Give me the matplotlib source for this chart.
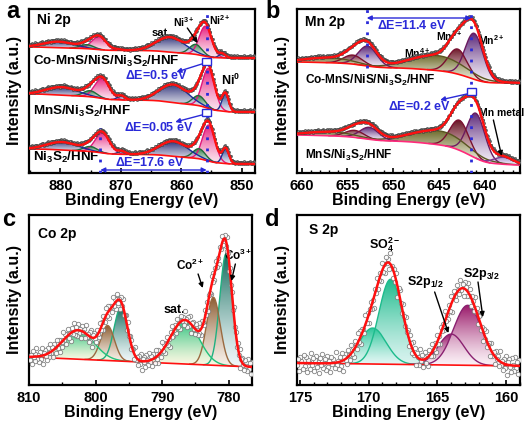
import numpy as np
import matplotlib
matplotlib.use('Agg')
import matplotlib.pyplot as plt
from matplotlib.patches import Polygon, Rectangle
from matplotlib.colors import LinearSegmentedColormap

plt.rcParams['font.family'] = ['Liberation Sans', 'DejaVu Sans']
plt.rcParams['font.weight'] = 'bold'
plt.rcParams['axes.labelweight'] = 'bold'
plt.rcParams['mathtext.fontset'] = 'custom'
plt.rcParams['mathtext.rm'] = 'Liberation Sans:bold'
plt.rcParams['mathtext.bf'] = 'Liberation Sans:bold'
plt.rcParams['mathtext.it'] = 'Liberation Sans:bold'
plt.rcParams['mathtext.sf'] = 'Liberation Sans:bold'
plt.rcParams['mathtext.default'] = 'rm'

# ---- Ni 2p (panel a) ----
ni_samples = ['Co-MnS/NiS/Ni$_3$S$_2$/HNF', 'MnS/Ni$_3$S$_2$/HNF', 'Ni$_3$S$_2$/HNF']
ni_base_right = [115, 61, 9]
ni_base_step = [11, 18, 15]
ni_shift = [0.0, -0.5, -0.55]
ni_peaks = ['Ni2+', 'Ni3+', 'Ni0', 'sat', 'Ni2+', 'Ni3+', 'Ni0', 'sat']
ni_centers = [856.0, 857.6, 853.2, 861.8, 873.6, 875.6, 870.4, 880.2]
ni_fwhm = [2.4, 2.4, 1.3, 5.5, 2.8, 2.6, 1.5, 6.0]
ni_heights = [[30, 10, 4, 15, 13, 4, 1, 6],
              [40, 10, 18, 18, 20, 6, 4, 8],
              [36, 10, 15, 15, 20, 5, 3, 8]]

# ---- Mn 2p (panel b) ----
mn_samples = ['Co-MnS/NiS/Ni$_3$S$_2$/HNF', 'MnS/Ni$_3$S$_2$/HNF']
mn_base_right = [90, 8]
mn_base_step = [21, 30]
mn_shift = [0.0, -0.2]
mn_peaks = ['Mn2+', 'Mn3+', 'Mn4+', 'Mn0', 'Mn2+', 'Mn3+', 'Mn4+']
mn_centers = [641.2, 643.0, 645.2, 638.2, 652.8, 654.4, 657.0]
mn_fwhm = [2.3, 2.4, 7.0, 2.5, 2.4, 2.4, 6.0]
mn_heights = [[46, 25, 15, 0, 20, 9, 5],
              [45, 30, 14, 7, 12, 7, 4]]

# ---- Co 2p (panel c) ----
co_peaks = ['Co3+', 'Co2+', 'cosat', 'Co3+', 'Co2+', 'cosat']
co_centers = [780.4, 782.3, 786.6, 796.2, 798.2, 802.6]
co_fwhm = [2.2, 2.4, 5.0, 2.4, 2.4, 5.5]
co_heights = [112, 68, 44, 54, 35, 29]
co_bg = [18, 28]   # at low / high binding energy end

# ---- S 2p (panel d) ----
s_peaks = ['SO4', 'SO4b', 'S', 'S']
s_centers = [168.4, 169.7, 164.0, 162.8]
s_fwhm = [2.0, 2.3, 2.2, 2.4]
s_heights = [85, 36, 31, 60]
s_bg = [19, 22]

# residuals of measured points about the fit (read by eye)
noise = [0.3, -0.8, 1.2, -0.4, 0.9, -1.3, 0.5, 0.1, -0.9, 1.4, -0.2, 0.7, -1.1, 0.4, 1.0,
         -0.6, 0.2, -1.4, 0.8, -0.3, 1.3, -0.7, 0.0, 0.6, -1.0, 1.1, -0.5, 0.3, -1.2, 0.9,
         -0.1, 0.5, -0.8, 1.5, -0.4, 0.2, -1.0, 0.7, -0.6, 1.2, -1.5, 0.4, 0.8, -0.2, -0.9,
         1.0, 0.1, -0.7, 1.3, -0.3, 0.6, -1.1, 0.9]

styles = {
    'Ni2+': ('#e8207e', '#fbe3ee', '#e0187a'),
    'Ni3+': ('#2a7a46', '#e2efe4', '#1f6a3a'),
    'Ni0': ('#27408f', '#e6e9f3', '#1a2f90'),
    'sat': ('#2b2f78', '#eeeef2', '#1a2a9a'),
    'Mn2+': ('#5a2678', '#f1ebf6', '#6a1a60'),
    'Mn3+': ('#6a1626', '#f3e4e6', '#7a1030'),
    'Mn4+': ('#6d6a2c', '#efeedd', '#5a5522'),
    'Mn0': ('#a58acb', '#f1ecf8', '#7a3b8f'),
    'Co3+': ('#0f6a5a', '#eef6f8', '#20b080'),
    'Co2+': ('#8a5a30', '#f6efe6', '#9a6a40'),
    'cosat': ('#22c07a', '#fbf8e2', '#22c07a'),
    'SO4': ('#1dbb8c', '#d8f3ef', '#1dbb8c'),
    'SO4b': ('#2cc79a', '#e2f6f4', '#1dbb8c'),
    'S': ('#9a1a6a', '#fbf0f6', '#8a2070'),
}

RED = '#ff1010'
BLUE = '#2a2ad8'


def gauss(x, c, w, h):
    return h * np.exp(-4 * np.log(2) * ((x - c) / w) ** 2)


def grad_fill(ax, x, lower, upper, key, z):
    dark, light, edge = styles[key]
    m = (upper - lower) > 0.15
    if m.sum() < 3:
        return
    xs, lo, up = x[m], lower[m], upper[m]
    verts = np.vstack([np.column_stack([xs, up]), np.column_stack([xs[::-1], lo[::-1]])])
    poly = Polygon(verts, closed=True, fc='none', ec='none')
    ax.add_patch(poly)
    cmap = LinearSegmentedColormap.from_list('g', [light, dark])
    img = np.linspace(0, 1, 128).reshape(-1, 1) ** 1.3
    im = ax.imshow(img, cmap=cmap, extent=[xs.min(), xs.max(), lo.min(), up.max()],
                   origin='lower', aspect='auto', zorder=z, interpolation='bilinear')
    im.set_clip_path(poly)
    ax.plot(xs, up, color=edge, lw=1.0, zorder=z + 0.5)


def style_axes(ax, xlim, major, minor):
    ax.set_xlim(*xlim)
    ax.set_xticks(np.arange(np.ceil(min(xlim) / major) * major, max(xlim) + 0.01, major))
    ax.set_xticks(np.arange(np.ceil(min(xlim) / minor) * minor, max(xlim) + 0.01, minor), minor=True)
    ax.set_yticks([])
    ax.tick_params(axis='x', which='major', direction='in', length=3.5, width=1.2,
                   labelsize=10.5, pad=4)
    ax.tick_params(axis='x', which='minor', direction='in', length=2, width=1.0)
    for lbl in ax.get_xticklabels():
        lbl.set_fontweight('bold')
    for s in ax.spines.values():
        s.set_linewidth(1.6)
    ax.set_xlabel('Binding Energy (eV)', fontsize=11.5, fontweight='bold', labelpad=0)
    ax.set_ylabel('Intensity (a.u.)', fontsize=11.5, fontweight='bold', labelpad=5)


W, H = 524, 424
fig = plt.figure(figsize=(W / 100, H / 100), dpi=100)


def add_ax(l, t, r, b):
    return fig.add_axes([l / W, 1 - b / H, (r - l) / W, (b - t) / H])


axa = add_ax(29, 9, 255, 173)
axb = add_ax(297, 9, 520, 173)
axc = add_ax(29, 215, 252, 385)
axd = add_ax(297, 215, 520, 385)


def stacked(ax, xlim, centers, fwhm, heights, peaks, base_right, base_step, shifts, bgcol, dotstep):
    x = np.arange(min(xlim), max(xlim) + 0.02, 0.02)
    for i in range(len(heights)):
        comps = [gauss(x, c + shifts[i], w, h) for c, w, h in zip(centers, fwhm, heights[i])]
        total = np.sum(comps, axis=0)
        cum = np.cumsum(total)
        bg = base_right[i] + base_step[i] * cum / cum[-1]
        for k, (cp, key) in enumerate(zip(comps, peaks)):
            if heights[i][k] > 0:
                grad_fill(ax, x, bg, bg + cp, key, 2 + 0.01 * k)
        ax.plot(x, bg, color=bgcol[i], lw=1.2, zorder=4)
        xd = np.arange(min(xlim), max(xlim), dotstep)
        env_d = np.interp(xd, x, bg + total)
        yd = env_d + 1.2 + 1.1 * np.resize(noise, len(xd))
        ax.plot(xd, yd, 'o', ms=1.6, mfc='#8a8a8a', mec='#2a2a2a', mew=0.35, zorder=4.5)
        ax.plot(x, bg + total, color=RED, lw=1.7, zorder=5)


def arrow(ax, xy, xytext, color='k', style='-|>'):
    ax.annotate('', xy=xy, xytext=xytext,
                arrowprops=dict(arrowstyle=style, color=color, lw=1.0, mutation_scale=7,
                                shrinkA=0, shrinkB=0), zorder=7)


# ---------------- panel a ----------------
stacked(axa, (885.2, 847.8), ni_centers, ni_fwhm, ni_heights, ni_peaks,
        ni_base_right, ni_base_step, ni_shift, [RED, RED, RED], 0.09)
axa.set_ylim(0, 164)
style_axes(axa, (885.2, 847.8), 10, 5)
axa.text(883.9, 153, 'Ni 2p', fontsize=10, va='center')
for lab, yy in zip(ni_samples, [112, 62, 16]):
    axa.text(884.6, yy, lab, fontsize=9.6, va='center')
axa.text(863.3, 140, 'sat.', fontsize=8, ha='center', va='center')
axa.text(859.6, 151, 'Ni$^{3+}$', fontsize=7.5, ha='center', va='center')
arrow(axa, (857.3, 130), (859.0, 145))
axa.text(853.6, 153, 'Ni$^{2+}$', fontsize=7.5, ha='center', va='center')
axa.text(851.9, 93, 'Ni$^0$', fontsize=9, ha='center', va='center')
axa.plot([873.4, 873.4], [0, 45], ls=(0, (1, 3)), color=BLUE, lw=2, zorder=6)
axa.plot([855.8, 855.8], [0, 164], ls=(0, (1, 3)), color=BLUE, lw=2, zorder=6)
for yy in [111, 60]:
    axa.add_patch(Rectangle((855.8 - 0.7, yy - 3.5), 1.4, 7, fc='white', ec=BLUE, lw=1.0, zorder=6.5))
arrow(axa, (860.8, 101), (856.6, 109), BLUE)
axa.text(864.2, 97, '$\\Delta$E=0.5 eV', fontsize=9, color=BLUE, ha='center', va='center')
arrow(axa, (861.0, 51), (856.6, 58), BLUE)
axa.text(863.8, 45, '$\\Delta$E=0.05 eV', fontsize=9, color=BLUE, ha='center', va='center')
arrow(axa, (855.8, 3), (873.4, 3), BLUE, '<|-|>')
axa.text(865.2, 10, '$\\Delta$E=17.6 eV', fontsize=9, color=BLUE, ha='center', va='center')

# ---------------- panel b ----------------
stacked(axb, (660.5, 636.2), mn_centers, mn_fwhm, mn_heights, mn_peaks,
        mn_base_right, mn_base_step, mn_shift, [RED, '#ff2a7a'], 0.06)
axb.set_ylim(0, 164)
style_axes(axb, (660.5, 636.2), 5, 1)
axb.text(659.6, 151, 'Mn 2p', fontsize=10, va='center')
for lab, yy in zip(mn_samples, [93, 18]):
    axb.text(659.6, yy, lab, fontsize=8.6, va='center')
axb.plot([652.9, 652.9], [105, 164], ls=(0, (1, 3)), color=BLUE, lw=2, zorder=6)
axb.plot([641.5, 641.5], [0, 164], ls=(0, (1, 3)), color=BLUE, lw=2, zorder=6)
arrow(axb, (641.5, 155), (652.9, 155), BLUE, '<|-|>')
axb.text(648.0, 147, '$\\Delta$E=11.4 eV', fontsize=9, color=BLUE, ha='center', va='center')
axb.text(643.9, 137, 'Mn$^{3+}$', fontsize=7.5, ha='center', va='center')
axb.text(639.3, 133, 'Mn$^{2+}$', fontsize=7.5, ha='center', va='center')
axb.text(647.4, 120, 'Mn$^{4+}$', fontsize=7.5, ha='center', va='center')
axb.add_patch(Rectangle((641.5 - 0.5, 81 - 3.5), 1.0, 7, fc='white', ec=BLUE, lw=1.0, zorder=6.5))
arrow(axb, (644.9, 73), (642.0, 79), BLUE)
axb.text(647.2, 66, '$\\Delta$E=0.2 eV', fontsize=9, color=BLUE, ha='center', va='center')
axb.text(638.2, 60, 'Mn metal', fontsize=7.5, ha='center', va='center')
arrow(axb, (638.2, 17), (639.1, 53))


# ---------------- single spectra (c, d) ----------------
def single(ax, xlim, centers, fwhm, heights, peaks, bgv, step, amp):
    x = np.arange(min(xlim), max(xlim) + 0.02, 0.02)
    bg = np.interp(x, [min(xlim), max(xlim)], bgv)
    comps = [gauss(x, c, w, h) for c, w, h in zip(centers, fwhm, heights)]
    for k, (cp, key) in enumerate(zip(comps, peaks)):
        grad_fill(ax, x, bg, bg + cp, key, 2 + 0.01 * k)
    total = np.sum(comps, axis=0)
    ax.plot(x, bg, color=RED, lw=1.2, zorder=4)
    xd = np.arange(min(xlim) + 0.05, max(xlim), step)
    env_d = np.interp(xd, x, bg + total)
    yd = env_d + amp * np.resize(noise[::-1], len(xd))
    ax.plot(xd, yd, 'o', ms=3.2, mfc='white', mec='#777777', mew=0.6, zorder=4.5, alpha=0.9)
    ax.plot(x, bg + total, color=RED, lw=1.8, zorder=5)


single(axc, (810, 776.5), co_centers, co_fwhm, co_heights, co_peaks, co_bg, 0.14, 6.0)
axc.set_ylim(0, 170)
style_axes(axc, (810, 776.5), 10, 5)
axc.text(808.6, 151, 'Co 2p', fontsize=10, va='center')
axc.text(788.2, 75, 'sat.', fontsize=9, ha='center', va='center')
axc.text(785.8, 120, 'Co$^{2+}$', fontsize=8.5, ha='center', va='center')
arrow(axc, (783.9, 97), (784.6, 111))
axc.text(778.6, 130, 'Co$^{3+}$', fontsize=8.5, ha='center', va='center')
arrow(axc, (779.6, 104), (779.0, 121))

single(axd, (175.2, 159), s_centers, s_fwhm, s_heights, s_peaks, s_bg, 0.075, 7.0)
axd.set_ylim(0, 170)
style_axes(axd, (175.2, 159), 5, 1)
axd.text(174.3, 155, 'S 2p', fontsize=10, va='center')
axd.text(168.8, 140, 'SO$_4^{2-}$', fontsize=9, ha='center', va='center')
axd.text(165.9, 103, 'S2p$_{1/2}$', fontsize=9, ha='center', va='center')
arrow(axd, (164.2, 52), (165.2, 93))
axd.text(161.8, 111, 'S2p$_{3/2}$', fontsize=9, ha='center', va='center')
arrow(axd, (161.7, 68), (162.05, 103))

for lab, (px, py) in zip('abcd', [(13, 11), (273, 11), (9, 220), (272, 220)]):
    fig.text(px / W, 1 - py / H, lab, fontsize=17, fontweight='bold',
             ha='center', va='center')

fig.savefig('out.png', dpi=100)
